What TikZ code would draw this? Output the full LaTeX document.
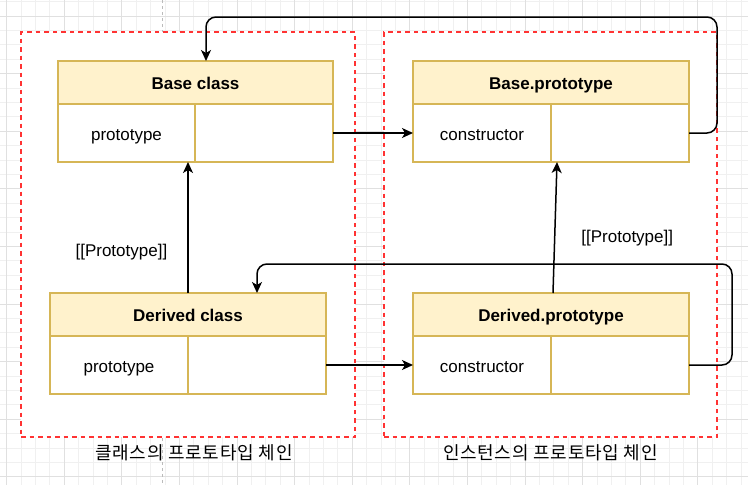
\documentclass[tikz,border=0pt]{standalone}
\usepackage{fontspec}
\setmainfont{Liberation Sans}
\newfontfamily\krfont[LetterSpace=4]{Noto Sans CJK KR}
\usetikzlibrary{arrows.meta,positioning}

\definecolor{headfill}{HTML}{FFF2CC}
\definecolor{boxline}{HTML}{D6B656}
\definecolor{framered}{HTML}{FF3333}
\definecolor{gridminor}{HTML}{F0F0F0}
\definecolor{gridmajor}{HTML}{E0E0E0}
\definecolor{guide}{HTML}{BBBBBB}

\begin{document}
\begin{tikzpicture}[x=1pt, y=-1pt,
		font=\fontsize{17}{20}\selectfont,
		head/.style={rectangle, draw=boxline, fill=headfill, line width=1.5pt, minimum width=276pt, minimum height=43pt, inner sep=0pt, outer sep=0pt, text height=13.5pt, text depth=0pt, font=\fontsize{17}{20}\selectfont\bfseries},
		cell/.style={rectangle, draw=boxline, fill=white, line width=1.5pt, minimum width=138pt, minimum height=58pt, inner sep=0pt, outer sep=0pt, text height=14.5pt, text depth=0pt},
		frame/.style={rectangle, draw=framered, fill=white, line width=1.5pt, dash pattern=on 4.5pt off 4pt, minimum width=334pt, minimum height=405pt, inner sep=0pt, outer sep=0pt},
		arr/.style={line width=1.5pt, -{Stealth[length=11pt, width=10pt, inset=3pt]}},
		lbl/.style={inner sep=0pt},
		captext/.style={inner sep=0pt, font=\fontsize{18}{21}\selectfont\krfont}]
			\useasboundingbox (0,0) rectangle (748,485);
			
			% grid paper
			\begin{scope}
				\clip (0,0) rectangle (748,485);
				\draw[gridminor, line width=1pt, step=14.4pt, shift={(6.7,1.6)}] (-30,500) grid (760,-30);
				\draw[gridmajor, line width=1pt, step=57.6pt, shift={(6.7,16)}] (-60,520) grid (800,-60);
			\end{scope}
			\draw[guide, line width=0.8pt, dash pattern=on 3pt off 3pt] (162,0) -- (162,485);
			
			% two chains
			\node[frame] (ClassFrame) at (188,234.5) {};
			\node[frame, minimum width=333pt] (ProtoFrame) at (550.5,234.5) {};
			
			\node[head, minimum width=275pt] (BaseHead) at (195.5,82.5) {Base class};
			\node[cell, minimum width=137pt, anchor=north west] (BaseKey) at (BaseHead.south west) {prototype};
			\node[cell, anchor=north east] (BaseVal) at (BaseHead.south east) {};
			
			\node[head] (BPHead) at (551,82.5) {Base.prototype};
			\node[cell, anchor=north west] (BPKey) at (BPHead.south west) {constructor};
			\node[cell, anchor=north east] (BPVal) at (BPHead.south east) {};
			
			\node[head] (DerivedHead) at (188,314.5) {Derived class};
			\node[cell, anchor=north west] (DerivedKey) at (DerivedHead.south west) {prototype};
			\node[cell, anchor=north east] (DerivedVal) at (DerivedHead.south east) {};
			
			\node[head] (DPHead) at (551,314.5) {Derived.prototype};
			\node[cell, anchor=north west] (DPKey) at (DPHead.south west) {constructor};
			\node[cell, anchor=north east] (DPVal) at (DPHead.south east) {};
			
			\node[captext] (ClassCap) at ([xshift=6pt, yshift=-16pt]ClassFrame.south) {클래스의 프로토타입 체인};
			\node[captext] (ProtoCap) at ([yshift=-16pt]ProtoFrame.south) {인스턴스의 프로토타입 체인};
			
			% links
			\coordinate (BaseLoop) at (717,17);
			\coordinate (DerivedLoop) at (732,264);
			
			\draw[arr] (BaseVal.east) -- (BPKey.west);
			\draw[arr] (DerivedVal.east) -- (DPKey.west);
			\draw[arr] (DerivedHead.north) -- (DerivedHead.north |- BaseKey.south) node[lbl, pos=0.316, left=20pt] {[[Prototype]]};
			\draw[arr] ([xshift=2pt]DPHead.north) -- ([xshift=6pt]BPKey.south east) node[lbl, pos=0.42, right=26pt] {[[Prototype]]};
			\draw[arr, rounded corners=10pt] (BPVal.east) -| (BaseLoop) -| ([xshift=10.5pt]BaseHead.north);
			\draw[arr, rounded corners=10pt] (DPVal.east) -| (DerivedLoop) -| ([xshift=69pt]DerivedHead.north);
	\end{tikzpicture}
\end{document}
